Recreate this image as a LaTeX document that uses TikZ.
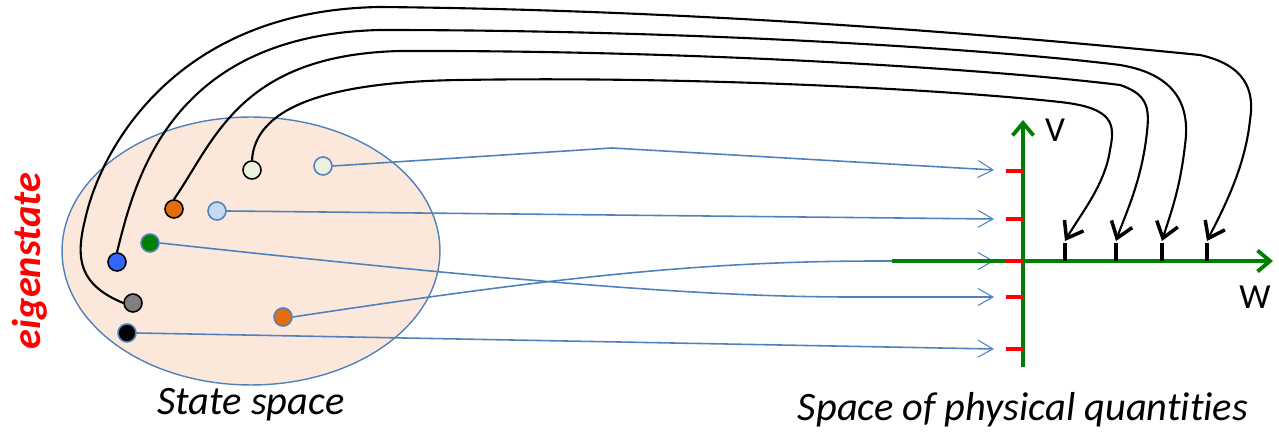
\documentclass[tikz,border=0pt]{standalone}
\usepackage{fontspec}
\setmainfont{Carlito}[Ligatures=NoCommon]
\usetikzlibrary{arrows.meta, positioning, shapes.geometric}
\definecolor{ofblue}{HTML}{4F81BD}
\definecolor{peach}{HTML}{FBE8DA}
\definecolor{axisgreen}{HTML}{008000}
\definecolor{pale}{HTML}{EBF1DE}
\definecolor{ltblue}{HTML}{C6D9F1}
\definecolor{orng}{HTML}{E46C0A}
\definecolor{brightblue}{HTML}{3366FF}

\begin{document}
\begin{tikzpicture}[x=0.02cm, y=-0.02cm,
    statedot/.style={circle, minimum size=0.36cm, inner sep=0pt, line width=0.9pt},
    mapline/.style={ofblue, line width=0.9pt, -{Straight Barb[length=0.3cm, width=0.34cm, line width=0.6pt]}},
    eigenline/.style={black, line width=1.2pt, -{Straight Barb[length=0.3cm, width=0.44cm, line width=2pt]}},
    axisline/.style={axisgreen, line width=2.2pt, -{Straight Barb[length=0.25cm, width=0.42cm]}},
    redtick/.style={red, line width=2.8pt},
    blacktick/.style={black, line width=1.8pt},
    caption/.style={font=\fontsize{23}{27}\selectfont\itshape}]
        \useasboundingbox (0,0) rectangle (1279,432);

        % Draw the state space
        \node[ellipse, draw=ofblue, fill=peach, line width=0.8pt,
              minimum width=7.56cm, minimum height=5.36cm] (space) at (251,251) {};
        \node[caption, below=-2pt of space] (spacelab) {State space};
        \node[rotate=90, text=red, font=\fontsize{23}{27}\selectfont\bfseries\itshape] (eig) at (30,261) {eigenstate};

        % Draw the axes
        \coordinate (vbot) at (1023,367);
        \coordinate (vtop) at (1023,120);
        \coordinate (wl)   at (892,261);
        \coordinate (wr)   at (1273,261);
        \node[font=\fontsize{20}{24}\selectfont] (vlab) at (1055,130) {V};
        \node[font=\fontsize{20}{24}\selectfont] (wlab) at (1255,297) {W};
        \node[caption, below=11pt of vbot] (physlab) {Space of physical quantities};

        % Ends of the arrows
        \foreach \y/\n in {170/1, 219/2, 261/3, 297/4, 349/5}
            \coordinate (e\n) at (994,\y);
        \foreach \x/\n in {1065/1, 1116/2, 1162/3, 1207/4}
            \coordinate (t\n) at (\x,241);

        % Draw the states
        \node[statedot, draw=black,  fill=pale]       (pa) at (252,170) {};
        \node[statedot, draw=ofblue, fill=pale]       (pb) at (323,166) {};
        \node[statedot, draw=black,  fill=orng]       (oa) at (174,209) {};
        \node[statedot, draw=ofblue, fill=ltblue]     (lb) at (217,211) {};
        \node[statedot, draw=ofblue, fill=axisgreen]  (gr) at (150,243) {};
        \node[statedot, draw=black,  fill=brightblue] (bl) at (117,262) {};
        \node[statedot, draw=black,  fill=gray]       (gy) at (133,303) {};
        \node[statedot, draw=ofblue, fill=orng]       (ob) at (283,317) {};
        \node[statedot, draw=ofblue, fill=black]      (bk) at (127,333) {};

        % Map the states onto V
        \draw[mapline] (pb.east) -- (612,148) -- (e1);
        \draw[mapline] (lb.east) -- (e2);
        \draw[mapline] (gr.east) .. controls (500,280) and (700,297) .. (850,297) -- (e4);
        \draw[mapline] (ob.east) .. controls (550,278) and (700,261) .. (880,261) -- (e3);
        \draw[mapline] (bk.east) -- (e5);

        % Map the eigenstates onto W
        \draw[eigenline] (pa.north) .. controls (255,110) and (320,82) .. (460,80)
            .. controls (700,76) and (950,90) .. (1060,102)
            .. controls (1115,108) and (1115,125) .. (1110,150)
            .. controls (1105,185) and (1080,215) .. (t1);
        \draw[eigenline] (oa.north) .. controls (215,140) and (240,55) .. (400,51)
            .. controls (700,50) and (1000,70) .. (1120,85)
            .. controls (1150,95) and (1150,110) .. (1146,140)
            .. controls (1140,185) and (1125,215) .. (t2);
        \draw[eigenline] (bl.north) .. controls (135,180) and (170,35) .. (380,30)
            .. controls (700,30) and (1000,50) .. (1120,65)
            .. controls (1180,75) and (1190,110) .. (1185,145)
            .. controls (1180,190) and (1170,215) .. (t3);
        \draw[eigenline] (gy.west) .. controls (80,285) and (75,260) .. (85,220)
            .. controls (100,150) and (175,10) .. (380,7)
            .. controls (700,10) and (1000,35) .. (1200,55)
            .. controls (1245,65) and (1255,90) .. (1250,120)
            .. controls (1245,170) and (1220,215) .. (t4);

        % Draw the axes and ticks
        \draw[axisline] (wl) -- (wr);
        \draw[axisline] (vbot) -- (vtop);
        \foreach \x in {1065, 1116, 1162, 1207}
            \draw[blacktick] (\x,243) -- (\x,261);
        \foreach \y in {171, 219, 261, 297, 349}
            \draw[redtick] (1006,\y) -- (1023,\y);
\end{tikzpicture}
\end{document}
